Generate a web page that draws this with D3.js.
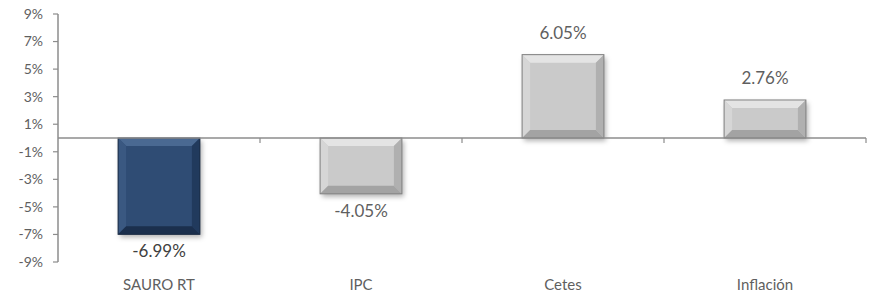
<!DOCTYPE html>
<html>
<head>
<meta charset="utf-8">
<script src="https://cdn.jsdelivr.net/npm/d3@7"></script>
<style>
  body { margin: 0; background: #fff; }
  svg { display: block; font-family: Lato, "Open Sans", sans-serif; }
</style>
</head>
<body>
<svg id="chart" width="873" height="296"></svg>
<script>
// chart data
const categories = ["SAURO RT", "IPC", "Cetes", "Inflación"];
const values = [-6.99, -4.05, 6.05, 2.76];
const yTicks = [9, 7, 5, 3, 1, -1, -3, -5, -7, -9];

let margin = { top: 14, right: 7, bottom: 34, left: 58 },
  width = 873 - margin.left - margin.right,
  height = 296 - margin.top - margin.bottom,
  axisColor = "#8c8c8c",
  textColor = "#5f5f5f",
  bevel = 8;

const svg = d3.select("#chart");
const g = svg.append("g").attr("transform", "translate(" + margin.left + "," + margin.top + ")");

const x = d3.scaleBand().domain(categories).range([0, width]).paddingInner(0.595).paddingOuter(0.2975);
const y = d3.scaleLinear().domain([-9, 9]).range([height, 0]);

// colour sets: face, top, left, right, bottom
const darkSet = ["#2f4c74", "#4a6992", "#3a5881", "#213a5d", "#1b2f4d"];
const graySet = ["#cacaca", "#e4e4e4", "#d6d6d6", "#b0b0b0", "#a3a3a3"];

const defs = svg.append("defs");
const blur = defs.append("filter").attr("id", "shadow").attr("x", "-20%").attr("y", "-20%").attr("width", "140%").attr("height", "150%");
blur.append("feGaussianBlur").attr("stdDeviation", 2.5);

// y axis
g.append("line")
  .attr("x1", 0).attr("x2", 0)
  .attr("y1", y(9)).attr("y2", y(-9))
  .attr("stroke", axisColor).attr("stroke-width", 1.5);

yTicks.forEach(t => {
  g.append("line")
    .attr("x1", -5).attr("x2", 0)
    .attr("y1", y(t)).attr("y2", y(t))
    .attr("stroke", axisColor).attr("stroke-width", 1.2);
  g.append("text")
    .attr("x", -15).attr("y", y(t))
    .attr("dy", "0.35em")
    .attr("text-anchor", "end")
    .attr("font-size", 14)
    .attr("fill", textColor)
    .text(t + "%");
});

// bars
values.forEach((v, i) => {
  const cat = categories[i];
  const bx = x(cat), bw = x.bandwidth();
  const y0 = Math.min(y(v), y(0)), y1 = Math.max(y(v), y(0));
  const bh = y1 - y0;
  const c = i === 0 ? darkSet : graySet;
  const bar = g.append("g");

  // soft shadow
  bar.append("rect")
    .attr("x", bx + 2).attr("y", y0 + 3)
    .attr("width", bw).attr("height", bh)
    .attr("fill", "rgba(0,0,0,0.3)")
    .attr("filter", "url(#shadow)");

  const b = Math.min(bevel, bh / 2);
  const L = bx, R = bx + bw, T = y0, B = y1;
  const pts = {
    top: [[L, T], [R, T], [R - b, T + b], [L + b, T + b]],
    left: [[L, T], [L + b, T + b], [L + b, B - b], [L, B]],
    right: [[R, T], [R, B], [R - b, B - b], [R - b, T + b]],
    bottom: [[L, B], [L + b, B - b], [R - b, B - b], [R, B]]
  };
  bar.append("rect")
    .attr("x", L).attr("y", T)
    .attr("width", bw).attr("height", bh)
    .attr("fill", c[0]);
  [["top", c[1]], ["left", c[2]], ["right", c[3]], ["bottom", c[4]]].forEach(([k, col]) => {
    bar.append("polygon")
      .attr("points", pts[k].map(p => p.join(",")).join(" "))
      .attr("fill", col);
  });
  bar.append("rect")
    .attr("x", L).attr("y", T)
    .attr("width", bw).attr("height", bh)
    .attr("fill", "none")
    .attr("stroke", i === 0 ? "#1a2b44" : "#808080")
    .attr("stroke-width", 1);

  // value label
  g.append("text")
    .attr("x", bx + bw / 2)
    .attr("y", v >= 0 ? y(v) - 16 : y(v) + 10)
    .attr("dy", v >= 0 ? "0" : "0.75em")
    .attr("text-anchor", "middle")
    .attr("font-size", 17)
    .attr("fill", i === 0 ? "#404040" : textColor)
    .text(v.toFixed(2) + "%");

  // category label
  g.append("text")
    .attr("x", bx + bw / 2)
    .attr("y", height + 28)
    .attr("text-anchor", "middle")
    .attr("font-size", 15)
    .attr("fill", textColor)
    .text(cat);
});

// zero line with category separators
g.append("line")
  .attr("x1", 0).attr("x2", width)
  .attr("y1", y(0)).attr("y2", y(0))
  .attr("stroke", axisColor).attr("stroke-width", 1.5);

const step = x.step();
categories.forEach((c, i) => {
  const tx = (i + 1) * step;
  g.append("line")
    .attr("x1", tx).attr("x2", tx)
    .attr("y1", y(0)).attr("y2", y(0) + 5)
    .attr("stroke", axisColor).attr("stroke-width", 1.2);
});
</script>
</body>
</html>
